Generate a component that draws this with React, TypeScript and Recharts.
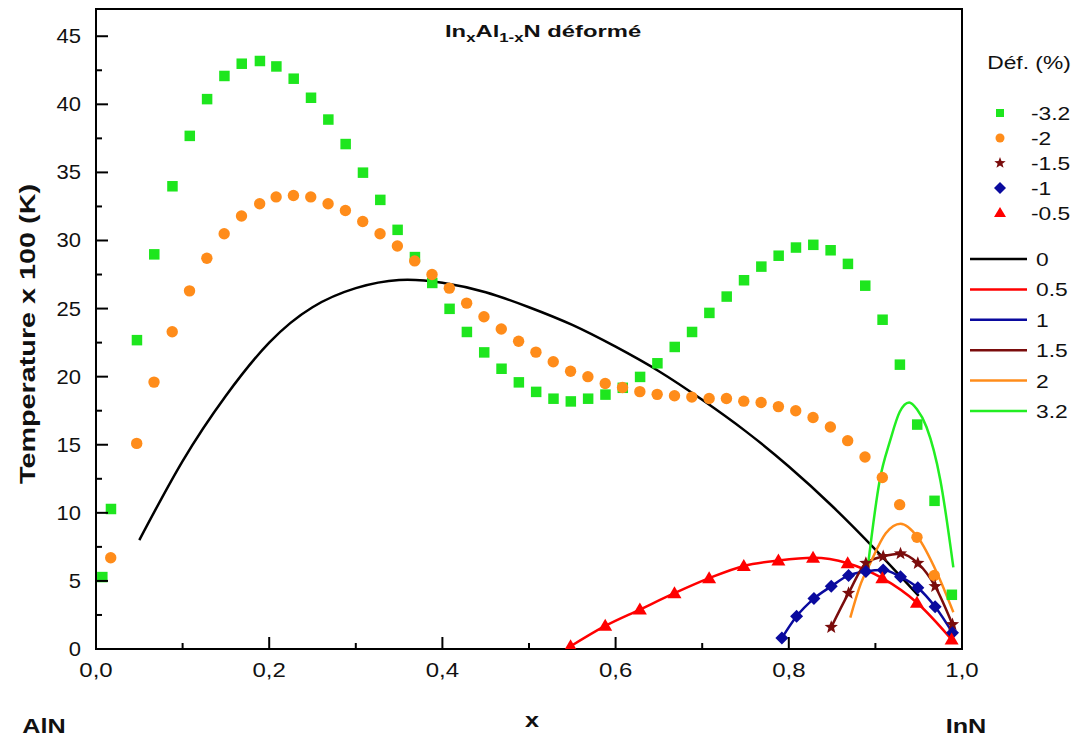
import React from "react";
import { ComposedChart, Line, Scatter, XAxis, YAxis, ReferenceArea } from "recharts";

// marker series (negative strain), [x, T/100]
const defM32: [number, number][] = [
  [0.007, 5.3], [0.017, 10.3], [0.047, 22.7], [0.067, 29.0], [0.088, 34.0], [0.108, 37.7],
  [0.128, 40.4], [0.148, 42.1], [0.168, 43.0], [0.189, 43.2], [0.208, 42.8], [0.228, 41.9],
  [0.248, 40.5], [0.268, 38.9], [0.288, 37.1], [0.308, 35.0], [0.328, 33.0], [0.348, 30.8],
  [0.368, 28.8], [0.388, 26.9], [0.408, 25.0], [0.428, 23.3], [0.448, 21.8], [0.468, 20.6],
  [0.488, 19.6], [0.508, 18.9], [0.528, 18.4], [0.548, 18.2], [0.568, 18.4], [0.588, 18.7],
  [0.608, 19.2], [0.628, 20.0], [0.648, 21.0], [0.668, 22.2], [0.688, 23.3], [0.708, 24.7],
  [0.728, 25.9], [0.748, 27.1], [0.768, 28.1], [0.788, 28.9], [0.808, 29.5], [0.828, 29.7],
  [0.848, 29.3], [0.868, 28.3], [0.888, 26.7], [0.908, 24.2], [0.928, 20.9], [0.948, 16.5],
  [0.968, 10.9], [0.988, 4.0],
];
const defM2: [number, number][] = [
  [0.017, 6.7], [0.047, 15.1], [0.067, 19.6], [0.088, 23.3], [0.108, 26.3], [0.128, 28.7],
  [0.148, 30.5], [0.168, 31.8], [0.189, 32.7], [0.208, 33.2], [0.228, 33.3], [0.248, 33.2],
  [0.268, 32.7], [0.288, 32.2], [0.308, 31.4], [0.328, 30.5], [0.348, 29.6], [0.368, 28.5],
  [0.388, 27.5], [0.408, 26.5], [0.428, 25.4], [0.448, 24.4], [0.468, 23.5], [0.488, 22.6],
  [0.508, 21.8], [0.528, 21.1], [0.548, 20.4], [0.568, 20.0], [0.588, 19.5], [0.608, 19.2],
  [0.628, 18.9], [0.648, 18.7], [0.668, 18.6], [0.688, 18.5], [0.708, 18.4], [0.728, 18.4],
  [0.748, 18.2], [0.768, 18.1], [0.788, 17.8], [0.808, 17.5], [0.828, 17.0], [0.848, 16.3],
  [0.868, 15.3], [0.888, 14.1], [0.908, 12.6], [0.928, 10.6], [0.948, 8.2], [0.968, 5.4],
];
const defM15: [number, number][] = [
  [0.849, 1.6], [0.869, 4.1], [0.889, 6.3], [0.909, 6.8], [0.929, 7.0], [0.949, 6.3],
  [0.969, 4.6], [0.989, 1.8],
];
const defM1: [number, number][] = [
  [0.792, 0.8], [0.809, 2.4], [0.829, 3.7], [0.849, 4.6], [0.869, 5.4], [0.889, 5.7],
  [0.909, 5.8], [0.929, 5.3], [0.949, 4.5], [0.969, 3.1], [0.989, 1.2],
];
const defM05: [number, number][] = [
  [0.548, 0.2], [0.588, 1.7], [0.628, 2.9], [0.668, 4.1], [0.708, 5.2], [0.748, 6.1],
  [0.788, 6.5], [0.828, 6.7], [0.868, 6.3], [0.908, 5.2], [0.948, 3.4], [0.988, 0.7],
];

// line series (zero / positive strain)
const def0: [number, number][] = [
  [0.05, 8.0], [0.1, 13.8], [0.15, 18.6], [0.2, 22.5], [0.25, 25.1], [0.3, 26.5], [0.35, 27.1],
  [0.4, 26.9], [0.45, 26.2], [0.5, 25.1], [0.55, 23.8], [0.6, 22.2], [0.65, 20.4], [0.7, 18.3],
  [0.75, 16.0], [0.8, 13.4], [0.85, 10.5], [0.9, 7.3], [0.95, 3.9],
];
const def05: [number, number][] = [
  [0.548, 0.2], [0.588, 1.7], [0.628, 2.9], [0.668, 4.1], [0.708, 5.2], [0.748, 6.1],
  [0.788, 6.5], [0.828, 6.7], [0.868, 6.3], [0.908, 5.2], [0.948, 3.4], [0.988, 0.7],
];
const def1: [number, number][] = [
  [0.792, 0.8], [0.809, 2.4], [0.829, 3.7], [0.849, 4.6], [0.869, 5.4], [0.889, 5.7],
  [0.909, 5.8], [0.929, 5.3], [0.949, 4.5], [0.969, 3.1], [0.989, 1.2],
];
const def15: [number, number][] = [
  [0.849, 1.6], [0.869, 4.1], [0.889, 6.3], [0.909, 6.8], [0.929, 7.0], [0.949, 6.3],
  [0.969, 4.6], [0.989, 1.8],
];
const def2: [number, number][] = [
  [0.871, 2.3], [0.882, 4.6], [0.894, 6.3], [0.912, 8.5], [0.929, 9.2], [0.949, 8.2],
  [0.971, 5.6], [0.99, 2.7],
];
const def32: [number, number][] = [
  [0.891, 5.9], [0.905, 12.4], [0.917, 15.3], [0.928, 17.4], [0.939, 18.1], [0.948, 17.6],
  [0.959, 16.3], [0.975, 12.4], [0.99, 6.0],
];

const xTicks = [0, 0.1, 0.2, 0.3, 0.4, 0.5, 0.6, 0.7, 0.8, 0.9, 1.0];
const yTicks = [0, 2.5, 5, 7.5, 10, 12.5, 15, 17.5, 20, 22.5, 25, 27.5, 30, 32.5, 35, 37.5, 40, 42.5, 45];

const GREEN = "#1ee61e";
const LGREEN = "#22ee22";
const ORANGE = "#ff8c1a";
const BROWN = "#7a0c0c";
const NAVY = "#0a0a9e";
const RED = "#ff0000";
const FONT = "'Liberation Sans', Arial, sans-serif";
const SX = 1.2; // text in the original looks a bit wide

const pts = (a: [number, number][]) => a.map(([x, y]) => ({ x, y }));

const starPath = (cx: number, cy: number, r: number) => {
  let d = "";
  for (let i = 0; i < 10; i++) {
    const rad = i % 2 === 0 ? r : r * 0.42;
    const ang = -Math.PI / 2 + (i * Math.PI) / 5;
    d += (i === 0 ? "M" : "L") + (cx + rad * Math.cos(ang)).toFixed(2) + "," + (cy + rad * Math.sin(ang)).toFixed(2);
  }
  return d + "Z";
};

const Square = (p: any) => <rect x={p.cx - 5} y={p.cy - 5} width={10.5} height={10.5} fill={GREEN} />;
const Dot = (p: any) => <circle cx={p.cx} cy={p.cy} r={5.7} fill={ORANGE} />;
const Star = (p: any) => <path d={starPath(p.cx, p.cy, 7)} fill={BROWN} />;
const Diamond = (p: any) => (
  <path d={`M${p.cx},${p.cy - 6.5}L${p.cx + 6.5},${p.cy}L${p.cx},${p.cy + 6.5}L${p.cx - 6.5},${p.cy}Z`} fill={NAVY} />
);
const Tri = (p: any) => (
  <path d={`M${p.cx},${p.cy - 7}L${p.cx + 7},${p.cy + 5}L${p.cx - 7},${p.cy + 5}Z`} fill={RED} />
);

// text stretched horizontally
const WText = ({ x, y, sx = SX, anchor = "start", size, bold, children }: any) => (
  <text transform={`translate(${x},${y}) scale(${sx},1)`} textAnchor={anchor} fontSize={size}
    fontWeight={bold ? "bold" : "normal"} fontFamily={FONT} fill="#111">
    {children}
  </text>
);

const XTick = (p: any) => {
  const v = p.payload.value;
  const major = Math.round(v * 10) % 2 === 0;
  return (
    <g>
      <line x1={p.x} x2={p.x} y1={p.y} y2={p.y - (major ? 12 : 6)} stroke="#000" strokeWidth={2} />
      {major && <WText x={p.x} y={p.y + 28} anchor="middle" size={20}>{v.toFixed(1).replace(".", ",")}</WText>}
    </g>
  );
};

const YTick = (p: any) => {
  const v = p.payload.value;
  const major = v % 5 === 0;
  return (
    <g>
      <line x1={p.x} x2={p.x + (major ? 12 : 6)} y1={p.y} y2={p.y} stroke="#000" strokeWidth={2} />
      {major && <WText x={p.x - 15} y={p.y + 7} anchor="end" size={20} sx={1.1}>{v}</WText>}
    </g>
  );
};

const markerRows = [
  { label: "-3.2", kind: "sq" },
  { label: "-2", kind: "dot" },
  { label: "-1.5", kind: "star" },
  { label: "-1", kind: "dia" },
  { label: "-0.5", kind: "tri" },
];
const lineRows = [
  { label: "0", color: "#000" },
  { label: "0.5", color: RED },
  { label: "1", color: NAVY },
  { label: "1.5", color: BROWN },
  { label: "2", color: ORANGE },
  { label: "3.2", color: LGREEN },
];

const LegendIcon = ({ kind, cx, cy }: { kind: string; cx: number; cy: number }) => {
  if (kind === "sq") return <rect x={cx - 4} y={cy - 4} width={8} height={8} fill={GREEN} />;
  if (kind === "dot") return <circle cx={cx} cy={cy} r={4.5} fill={ORANGE} />;
  if (kind === "star") return <path d={starPath(cx, cy, 6)} fill={BROWN} />;
  if (kind === "dia") return <path d={`M${cx},${cy - 6}L${cx + 6},${cy}L${cx},${cy + 6}L${cx - 6},${cy}Z`} fill={NAVY} />;
  return <path d={`M${cx},${cy - 6}L${cx + 6},${cy + 4}L${cx - 6},${cy + 4}Z`} fill={RED} />;
};

export default function App() {
  return (
    <div style={{ position: "absolute", left: 0, top: 0, width: 1079, height: 738, background: "#fff" }}>
      <ComposedChart width={1079} height={738} margin={{ top: 9, right: 117, bottom: 0, left: 0 }}>
        <XAxis type="number" dataKey="x" domain={[0, 1]} ticks={xTicks} height={89}
          axisLine={{ stroke: "#000", strokeWidth: 2 }} tickLine={false} tickSize={0} tickMargin={0}
          tick={<XTick />} interval={0} allowDataOverflow />
        <YAxis type="number" dataKey="y" domain={[0, 47]} ticks={yTicks} width={96}
          axisLine={{ stroke: "#000", strokeWidth: 2 }} tickLine={false} tickSize={0} tickMargin={0}
          tick={<YTick />} interval={0} allowDataOverflow />
        <ReferenceArea x1={0} x2={1} y1={0} y2={47} fill="none" stroke="#000" strokeWidth={2} />
        <Line data={pts(def0)} dataKey="y" type="natural" stroke="#000" strokeWidth={2.5} dot={false} isAnimationActive={false} />
        <Line data={pts(def05)} dataKey="y" type="monotone" stroke={RED} strokeWidth={2.5} dot={false} isAnimationActive={false} />
        <Line data={pts(def1)} dataKey="y" type="monotone" stroke={NAVY} strokeWidth={2.5} dot={false} isAnimationActive={false} />
        <Line data={pts(def15)} dataKey="y" type="monotone" stroke={BROWN} strokeWidth={2.5} dot={false} isAnimationActive={false} />
        <Line data={pts(def2)} dataKey="y" type="monotone" stroke={ORANGE} strokeWidth={2.5} dot={false} isAnimationActive={false} />
        <Line data={pts(def32)} dataKey="y" type="monotone" stroke={LGREEN} strokeWidth={2.5} dot={false} isAnimationActive={false} />
        <Scatter data={pts(defM32)} shape={Square} isAnimationActive={false} />
        <Scatter data={pts(defM2)} shape={Dot} isAnimationActive={false} />
        <Scatter data={pts(defM15)} shape={Star} isAnimationActive={false} />
        <Scatter data={pts(defM1)} shape={Diamond} isAnimationActive={false} />
        <Scatter data={pts(defM05)} shape={Tri} isAnimationActive={false} />
      </ComposedChart>
      <svg width={1079} height={738} style={{ position: "absolute", left: 0, top: 0, pointerEvents: "none" }}
        fontFamily={FONT}>
        <text transform="translate(445,37) scale(1.4,1)" fontSize={17} fontWeight="bold" fill="#111">
          In<tspan fontSize={12} dy={5}>x</tspan><tspan dy={-5}>Al</tspan>
          <tspan fontSize={12} dy={5}>1-x</tspan><tspan dy={-5}>N déformé</tspan>
        </text>
        <text transform="translate(35,334) rotate(-90)" textAnchor="middle" fontSize={22} fontWeight="bold"
          fill="#111" textLength={300} lengthAdjust="spacingAndGlyphs">
          Temperature x 100 (K)
        </text>
        <WText x={532} y={727} anchor="middle" size={21} bold>x</WText>
        <WText x={44} y={733} anchor="middle" size={21} bold>AlN</WText>
        <WText x={966} y={733} anchor="middle" size={21} bold>InN</WText>
        <WText x={1029} y={69} anchor="middle" size={19}>Déf. (%)</WText>
        {markerRows.map((r, i) => (
          <g key={r.label}>
            <LegendIcon kind={r.kind} cx={1000} cy={113 + i * 25} />
            <WText x={1031} y={120 + i * 25} size={19}>{r.label}</WText>
          </g>
        ))}
        {lineRows.map((r, i) => (
          <g key={r.label}>
            <line x1={970} x2={1027} y1={259 + i * 30.4} y2={259 + i * 30.4} stroke={r.color} strokeWidth={2.5} />
            <WText x={1036} y={266 + i * 30.4} size={19}>{r.label}</WText>
          </g>
        ))}
      </svg>
    </div>
  );
}
